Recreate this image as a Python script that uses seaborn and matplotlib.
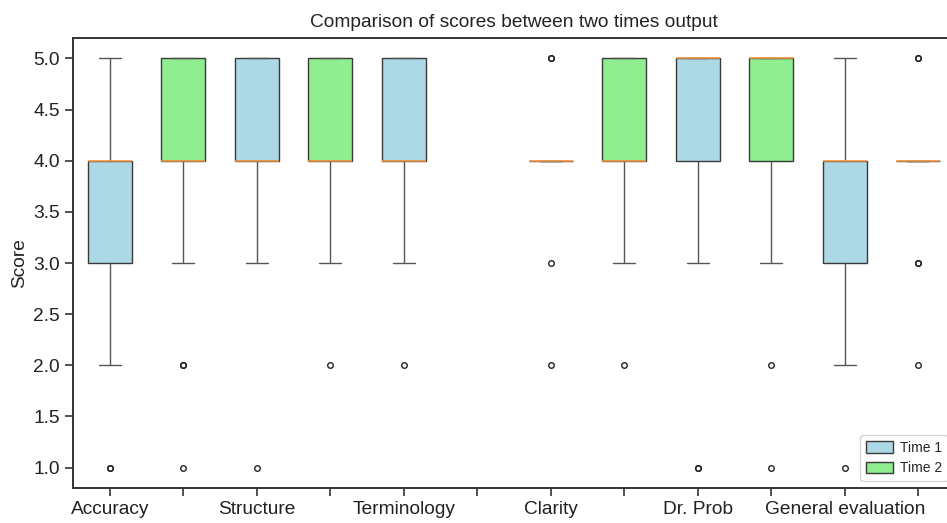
import matplotlib
matplotlib.use("Agg")
import matplotlib.pyplot as plt
from matplotlib.patches import Patch
import seaborn as sns
import pandas as pd

# ---- data (scores) ----
categories = ["Accuracy", "Structure", "Terminology", "Clarity", "Dr. Prob", "General evaluation"]
times = ["Time 1", "Time 2"]

accuracy_t1 = [1, 1, 2, 2, 3, 3, 3, 3, 3, 4, 4, 4, 4, 4, 4, 4, 4, 4, 5, 5]
accuracy_t2 = [1, 2, 2, 3, 4, 4, 4, 4, 4, 4, 4, 5, 5, 5, 5, 5, 5, 5, 5, 5]
structure_t1 = [1, 3, 3, 3, 4, 4, 4, 4, 4, 4, 4, 5, 5, 5, 5, 5, 5, 5, 5, 5]
structure_t2 = [2, 3, 3, 3, 4, 4, 4, 4, 4, 4, 4, 5, 5, 5, 5, 5, 5, 5, 5, 5]
terminology_t1 = [2, 3, 3, 4, 4, 4, 4, 4, 4, 4, 4, 5, 5, 5, 5, 5, 5, 5, 5, 5]
terminology_t2 = []
clarity_t1 = [2, 3, 4, 4, 4, 4, 4, 4, 4, 4, 4, 4, 4, 4, 4, 4, 4, 4, 5, 5]
clarity_t2 = [2, 3, 3, 3, 4, 4, 4, 4, 4, 4, 4, 5, 5, 5, 5, 5, 5, 5, 5, 5]
drprob_t1 = [1, 1, 3, 3, 4, 4, 4, 4, 4, 5, 5, 5, 5, 5, 5, 5, 5, 5, 5, 5]
drprob_t2 = [1, 2, 3, 3, 4, 4, 4, 4, 4, 5, 5, 5, 5, 5, 5, 5, 5, 5, 5, 5]
general_t1 = [1, 2, 2, 3, 3, 3, 3, 3, 3, 4, 4, 4, 4, 4, 4, 4, 4, 4, 5, 5]
general_t2 = [2, 3, 3, 4, 4, 4, 4, 4, 4, 4, 4, 4, 4, 4, 4, 4, 4, 4, 5, 5]

series = [
    (accuracy_t1, accuracy_t2),
    (structure_t1, structure_t2),
    (terminology_t1, terminology_t2),
    (clarity_t1, clarity_t2),
    (drprob_t1, drprob_t2),
    (general_t1, general_t2),
]

colors = {"Time 1": "#ADD8E6", "Time 2": "#90EE90"}

rows = []
order = []
for cat, (t1, t2) in zip(categories, series):
    for t, vals in zip(times, (t1, t2)):
        key = f"{cat}|{t}"
        order.append(key)
        for v in vals:
            rows.append({"slot": key, "Time": t, "Score": v})
df = pd.DataFrame(rows)

# ---- figure ----
sns.set_style("ticks")
plt.rcParams["font.family"] = ["Liberation Sans", "DejaVu Sans"]

fig = plt.figure(figsize=(9.47, 5.23), dpi=100)
ax = fig.add_axes([73 / 947, 1 - 488 / 523, (955 - 73) / 947, (488 - 38) / 523])

edge = "#3a3a3a"
sns.boxplot(
    data=df, x="slot", y="Score", hue="Time", order=order, hue_order=times,
    palette=colors, saturation=1, dodge=False, width=0.6, linewidth=1.0,
    linecolor=edge, legend=False, ax=ax,
    medianprops={"color": "#f5933a", "linewidth": 1.1},
    whiskerprops={"color": "#555555", "linewidth": 1.0},
    capprops={"color": "#555555", "linewidth": 1.0},
    flierprops={"marker": "o", "markersize": 4, "markerfacecolor": "none",
                "markeredgecolor": "#222222", "markeredgewidth": 1.0},
)

ax.set_xlim(-0.5, len(order) - 0.5)
ax.set_ylim(0.8, 5.2)
yticks = [1.0, 1.5, 2.0, 2.5, 3.0, 3.5, 4.0, 4.5, 5.0]
ax.set_yticks(yticks)
ax.set_yticklabels([f"{v:.1f}" for v in yticks])
ax.set_xticks(range(len(order)))
xlabels = [categories[i // 2] if i % 2 == 0 else "" for i in range(len(order))]
ax.set_xticklabels(xlabels)

ax.tick_params(axis="both", labelsize=13.8, length=6, width=1.2, color="#333333",
               labelcolor="#222222")
for s in ax.spines.values():
    s.set_visible(True)
    s.set_linewidth(1.4)
    s.set_color("#333333")

ax.set_xlabel("")
ax.set_ylabel("Score", fontsize=13.8, color="#222222")
ax.set_title("Comparison of scores between two times output", fontsize=13.8,
             color="#222222", pad=8)

handles = [Patch(facecolor=colors[t], edgecolor=edge, linewidth=1.0, label=t) for t in times]
ax.legend(handles=handles, loc="lower right", fontsize=10, frameon=True,
          handlelength=2.0, handleheight=0.9, handletextpad=0.5)

fig.savefig("out.png", dpi=100)
